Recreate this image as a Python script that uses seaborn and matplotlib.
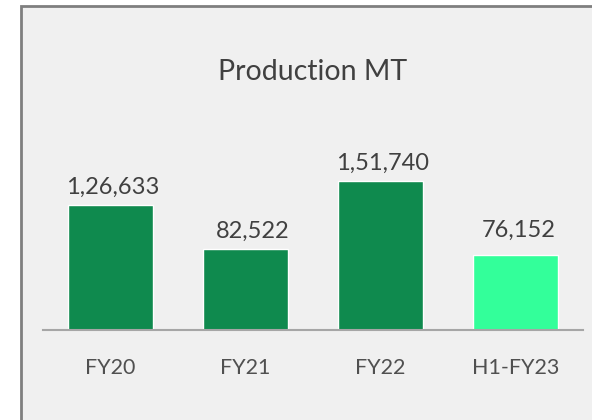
import matplotlib
matplotlib.use("Agg")
import matplotlib.pyplot as plt
import seaborn as sns
from matplotlib.patches import Rectangle

categories = ["FY20", "FY21", "FY22", "H1-FY23"]
production = [126633, 82522, 151740, 76152]
bar_colors = ["#0F8A4E", "#0F8A4E", "#0F8A4E", "#33FF9A"]
label_shift = [(1.8, 5), (5.4, 5), (1.8, 5), (2.2, 10)]


def indian_format(n):
    s = str(int(n))
    if len(s) <= 3:
        return s
    head, tail = s[:-3], s[-3:]
    parts = []
    while len(head) > 2:
        parts.insert(0, head[-2:])
        head = head[:-2]
    if head:
        parts.insert(0, head)
    return ",".join(parts) + "," + tail


sns.set_theme(style="white")
plt.rcParams["font.family"] = ["Lato", "DejaVu Sans"]

fig = plt.figure(figsize=(5.92, 4.20), dpi=100)
fig.patch.set_facecolor("white")

# chart frame (Excel-like), cut by the image edges on the right and bottom
frame = Rectangle((20.8 / 592, -0.05), 1.1, (420 - 6.3) / 420 + 0.05,
                  transform=fig.transFigure, facecolor="#F0F0F0",
                  edgecolor="#7F7F7F", linewidth=2.0, zorder=-1)
fig.patches.append(frame)

ax = fig.add_axes([43 / 592, 90 / 420, 540 / 592, 230 / 420])
ax.set_facecolor("none")

sns.barplot(x=categories, y=production, hue=categories, palette=bar_colors,
            width=0.63, saturation=1, legend=False, ax=ax)

ax.set_xlim(-0.5, 3.5)
ax.set_ylim(0, 233500)
ax.set_xlabel("")
ax.set_ylabel("")
ax.set_yticks([])
for side in ["left", "right", "top"]:
    ax.spines[side].set_visible(False)
ax.spines["bottom"].set_color("#A6A6A6")
ax.spines["bottom"].set_linewidth(1.5)
ax.tick_params(axis="x", length=0, pad=20, labelsize=15.5, labelcolor="#505050")

for i, v in enumerate(production):
    dx, dy = label_shift[i]
    ax.annotate(indian_format(v), (i, v), xytext=(dx, dy),
                textcoords="offset points", ha="center", va="bottom",
                fontsize=17, color="#404040")

fig.text(313 / 592, 1 - 72 / 420, "Production MT", ha="center", va="center",
         fontsize=20.5, color="#404040")

fig.savefig("out.png", dpi=100)
